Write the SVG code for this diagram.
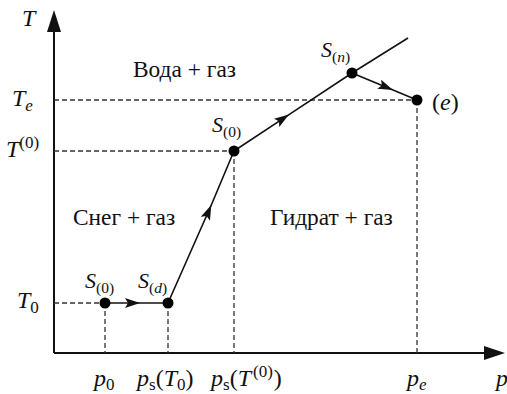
<svg xmlns="http://www.w3.org/2000/svg" width="507" height="394" viewBox="0 0 507 394">
<style>
text{font-family:"Liberation Serif","Times New Roman",serif;fill:#111}
.m{font-style:italic;font-size:24px}
.s{font-style:italic;font-size:22px}
.r{font-size:23.4px}
.sub{font-size:17px;font-style:normal}
.subi{font-size:17px;font-style:italic}
.ss{font-size:15.5px;font-style:normal}
.ssi{font-size:15.5px;font-style:italic}
.up{font-style:normal}
.axis{stroke:#111;stroke-width:2;fill:none}
.dash{stroke:#333;stroke-width:1.3;stroke-dasharray:5 3;fill:none}
.path{stroke:#111;stroke-width:1.6;fill:none;marker-mid:url(#arr)}
.dot{fill:#000}
</style>
<defs>
<marker id="arr" viewBox="0 0 15 10" refX="15" refY="5" markerWidth="15" markerHeight="10" markerUnits="userSpaceOnUse" orient="auto">
<path d="M0,0 L15,5 L0,10 L3,5 z" fill="#111"/>
</marker>
</defs>
<g id="axes">
<line class="axis" x1="54" y1="353" x2="54" y2="26"/>
<polygon points="54,10 47,32 61,32" fill="#111"/>
<line class="axis" x1="54" y1="353" x2="488" y2="353"/>
<polygon points="505,353 484,346 484,360" fill="#111"/>
<text class="m" x="22" y="26">T</text>
<text class="m" x="496" y="386">p</text>
</g>
<g id="guides">
<path class="dash" d="M54,303 H105 M54,151 H234 M54,100 H417 M105,303 V353 M168,303 V353 M234,151 V353 M417,100 V353"/>
</g>
<g id="ticks">
<text class="m" x="12" y="106">T<tspan class="subi" dy="5">e</tspan></text>
<text class="m" x="6" y="157">T<tspan class="sub" dy="-9">(0)</tspan></text>
<text class="m" x="17" y="308">T<tspan class="sub" dy="5">0</tspan></text>
<text class="m" x="94" y="386">p<tspan class="sub" dy="4">0</tspan></text>
<text class="m" x="137" y="386">p<tspan class="sub" dy="4">s</tspan><tspan class="up" dy="-4">(</tspan>T<tspan class="sub" dy="4">0</tspan><tspan class="up" dy="-4">)</tspan></text>
<text class="m" x="211" y="386">p<tspan class="sub" dy="4">s</tspan><tspan class="up" dy="-4">(</tspan>T<tspan class="sub" dx="2" dy="-9">(0)</tspan><tspan class="up" dx="1" dy="9">)</tspan></text>
<text class="m" x="407" y="386">p<tspan class="subi" dy="4">e</tspan></text>
</g>
<g id="regions">
<text class="r" x="133" y="77">Вода + газ</text>
<text class="r" x="73" y="225">Снег + газ</text>
<text class="r" x="270" y="225">Гидрат + газ</text>
</g>
<g id="connectors">
<polyline class="path" points="105,303 140,303 168,303"/>
<polyline class="path" points="168,303 211.3,205 234,151"/>
<polyline class="path" points="234,151 289,114.6 352,73"/>
<polyline class="path" points="352,73 393,90 417,100"/>
<line x1="352" y1="73" x2="408" y2="38" stroke="#111" stroke-width="1.6"/>
</g>
<g id="node-S0-low">
<circle class="dot" cx="105" cy="303" r="5.5"/>
<text class="s" x="85" y="288">S<tspan class="ss" dy="5">(0)</tspan></text>
</g>
<g id="node-Sd">
<circle class="dot" cx="168" cy="303" r="5.5"/>
<text class="s" x="138" y="288">S<tspan class="ss" dy="5">(</tspan><tspan class="ssi">d</tspan><tspan class="ss">)</tspan></text>
</g>
<g id="node-S0-up">
<circle class="dot" cx="234" cy="151" r="5.5"/>
<text class="s" x="212" y="132">S<tspan class="ss" dy="5">(0)</tspan></text>
</g>
<g id="node-Sn">
<circle class="dot" cx="352" cy="73" r="5.5"/>
<text class="s" x="321" y="57">S<tspan class="ss" dy="5">(</tspan><tspan class="ssi">n</tspan><tspan class="ss">)</tspan></text>
</g>
<g id="node-e">
<circle class="dot" cx="417" cy="100" r="5.5"/>
<text class="m" x="432" y="110"><tspan class="up">(</tspan>e<tspan class="up">)</tspan></text>
</g>
</svg>
